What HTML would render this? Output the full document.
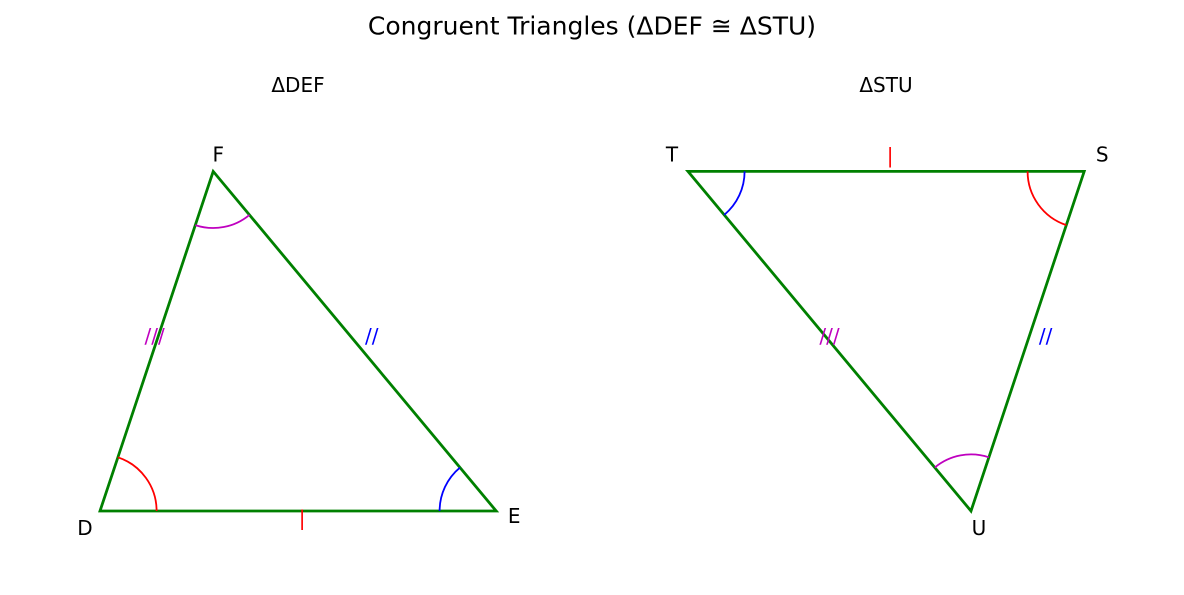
<!DOCTYPE html>
<html><head><meta charset="utf-8">
<style>
html,body{margin:0;padding:0;background:#fff;}
svg{display:block;font-family:"DejaVu Sans","Liberation Sans",sans-serif;}
</style></head>
<body>
<svg id="c" width="1184" height="595" viewBox="0 0 1184 595">
<text x="592" y="26" text-anchor="middle" dominant-baseline="central" font-size="25" fill="#000">Congruent Triangles (ΔDEF ≅ ΔSTU)</text>
<text x="298" y="85" text-anchor="middle" dominant-baseline="central" font-size="20">ΔDEF</text>
<text x="886" y="85" text-anchor="middle" dominant-baseline="central" font-size="20">ΔSTU</text>
</svg>
<script>
const leftNames = ["D","E","F"];
const leftX = [0,7,2];
const leftY = [0,0,6];
const rightNames = ["T","S","U"];
const rightX = [0,7,5];
const rightY = [6,6,0];
const leftArcColors = ["red","blue","#bf00bf"];
const rightArcColors = ["blue","red","#bf00bf"];
// side marks: [from index, to index, mark text, color]
const leftMarks = [[0,1,"|","red"],[0,2,"///","#bf00bf"],[1,2,"//","blue"]];
const rightMarks = [[0,1,"|","red"],[0,2,"///","#bf00bf"],[1,2,"//","blue"]];
// styling offsets (pixels)
const leftLabelOff = [[-15,17],[18,5],[5,-17]];
const rightLabelOff = [[-16,-17],[18,-17],[8,17]];
const leftMarkOff = [[4,7],[-2,-5],[17,-5]];
const rightMarkOff = [[4,-16],[0,-5],[18,-5]];

const S = 56.6;
const NS = "http://www.w3.org/2000/svg";
const svg = document.getElementById('c');
function mk(tag, attrs){const e=document.createElementNS(NS,tag);for(const k in attrs)e.setAttribute(k,attrs[k]);svg.appendChild(e);return e;}

function drawTri(names, xs, ys, ox, oy, arcColors, marks, labelOff, markOff, side){
  const sx = v => ox + v*S;
  const sy = v => oy - v*S;
  const P = xs.map((x,i)=>[sx(x), sy(ys[i])]);
  const poly = mk('polygon',{points:P.map(p=>p.join(',')).join(' '),fill:'none',stroke:'#008000','stroke-width':2.8,'stroke-linejoin':'miter'});
  
  
  for(let i=0;i<3;i++){
    const a=P[i], b=P[(i+1)%3], c=P[(i+2)%3];
    const r=S;
    const u1=[b[0]-a[0],b[1]-a[1]], u2=[c[0]-a[0],c[1]-a[1]];
    const l1=Math.hypot(...u1), l2=Math.hypot(...u2);
    const p1=[a[0]+u1[0]/l1*r,a[1]+u1[1]/l1*r], p2=[a[0]+u2[0]/l2*r,a[1]+u2[1]/l2*r];
    const cross=u1[0]*u2[1]-u1[1]*u2[0];
    const arc=mk('path',{d:`M${p1[0]},${p1[1]} A${r},${r} 0 0 ${cross>0?1:0} ${p2[0]},${p2[1]}`,fill:'none',stroke:arcColors[i],'stroke-width':1.8});
    
    
    const t=mk('text',{x:a[0]+labelOff[i][0],y:a[1]+labelOff[i][1],'text-anchor':'middle','dominant-baseline':'central','font-size':20,fill:'#000'});
    t.textContent=names[i];
    
    
  }
  marks.forEach((m,k)=>{
    const a=P[m[0]], b=P[m[1]];
    const mx=(a[0]+b[0])/2, my=(a[1]+b[1])/2;
    const t=mk('text',{x:mx+markOff[k][0],y:my+markOff[k][1],'text-anchor':'middle','dominant-baseline':'central','font-size':20,fill:m[3]});
    t.textContent=m[2];
    
    
  });
}
drawTri(leftNames,leftX,leftY,100,511,leftArcColors,leftMarks,leftLabelOff,leftMarkOff,'left');
drawTri(rightNames,rightX,rightY,688,511,rightArcColors,rightMarks,rightLabelOff,rightMarkOff,'right');
</script>
</body></html>
